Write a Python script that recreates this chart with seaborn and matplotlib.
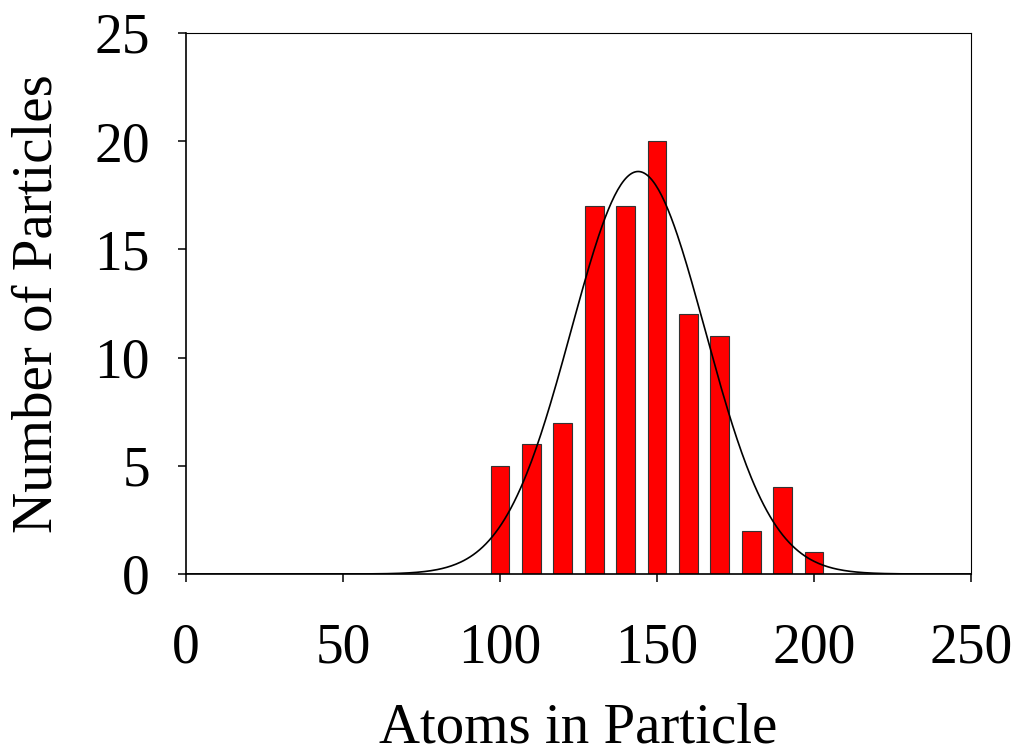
import numpy as np
import pandas as pd
import matplotlib
matplotlib.use("Agg")
import matplotlib.pyplot as plt
import seaborn as sns

# ---- data ----
atoms = [100, 110, 120, 130, 140, 150, 160, 170, 180, 190, 200]
particles = [5, 6, 7, 17, 17, 20, 12, 11, 2, 4, 1]

# normal-distribution fit drawn over the histogram (parameters)
fit_mean = 144.0
fit_sd = 21.3
fit_peak = 18.6

x_ticks = [0, 50, 100, 150, 200, 250]
y_ticks = [0, 5, 10, 15, 20, 25]
x_label = "Atoms in Particle"
y_label = "Number of Particles"

sns.set_style("ticks")
plt.rcParams["font.family"] = ["Liberation Serif", "DejaVu Serif"]
plt.rcParams["xtick.direction"] = "out"
plt.rcParams["ytick.direction"] = "out"
plt.rcParams["text.color"] = "black"
plt.rcParams["axes.labelcolor"] = "black"
plt.rcParams["xtick.color"] = "black"
plt.rcParams["ytick.color"] = "black"
plt.rcParams["xtick.labelcolor"] = "black"
plt.rcParams["ytick.labelcolor"] = "black"

fig = plt.figure(figsize=(10.16, 7.55), dpi=100)
ax = fig.add_axes([186 / 1016, 1 - 574 / 755, (971 - 186) / 1016, (574 - 33) / 755])

df = pd.DataFrame({"atoms": atoms, "particles": particles})
sns.barplot(data=df, x="atoms", y="particles", native_scale=True, width=0.6,
            color="#FF0000", saturation=1, edgecolor="#333333", linewidth=0.8,
            ax=ax, zorder=2)

xs = np.linspace(0, 250, 501)
curve = pd.DataFrame({"x": xs,
                      "y": fit_peak * np.exp(-(xs - fit_mean) ** 2 / (2 * fit_sd ** 2))})
sns.lineplot(data=curve, x="x", y="y", color="black", linewidth=1.2, ax=ax, zorder=3)

ax.set_xlim(0, 250)
ax.set_ylim(0, 25)
ax.set_xticks(x_ticks)
ax.set_yticks(y_ticks)
ax.set_xticklabels([str(t) for t in x_ticks])
ax.set_yticklabels([str(t) for t in y_ticks])
ax.tick_params(axis="both", labelsize=40, length=6, width=1.1,
               color="black", labelcolor="black")
ax.tick_params(axis="x", pad=29)
ax.tick_params(axis="y", pad=20)

for side in ["top", "right", "left", "bottom"]:
    ax.spines[side].set_visible(True)
    ax.spines[side].set_color("black")
ax.spines["top"].set_linewidth(0.8)
ax.spines["right"].set_linewidth(0.8)
ax.spines["left"].set_linewidth(1.2)
ax.spines["bottom"].set_linewidth(1.2)

ax.set_xlabel(x_label, fontsize=41, labelpad=20, color="black")
ax.set_ylabel(y_label, fontsize=41, labelpad=22, color="black")

fig.savefig("out.png", dpi=100, facecolor="white")
